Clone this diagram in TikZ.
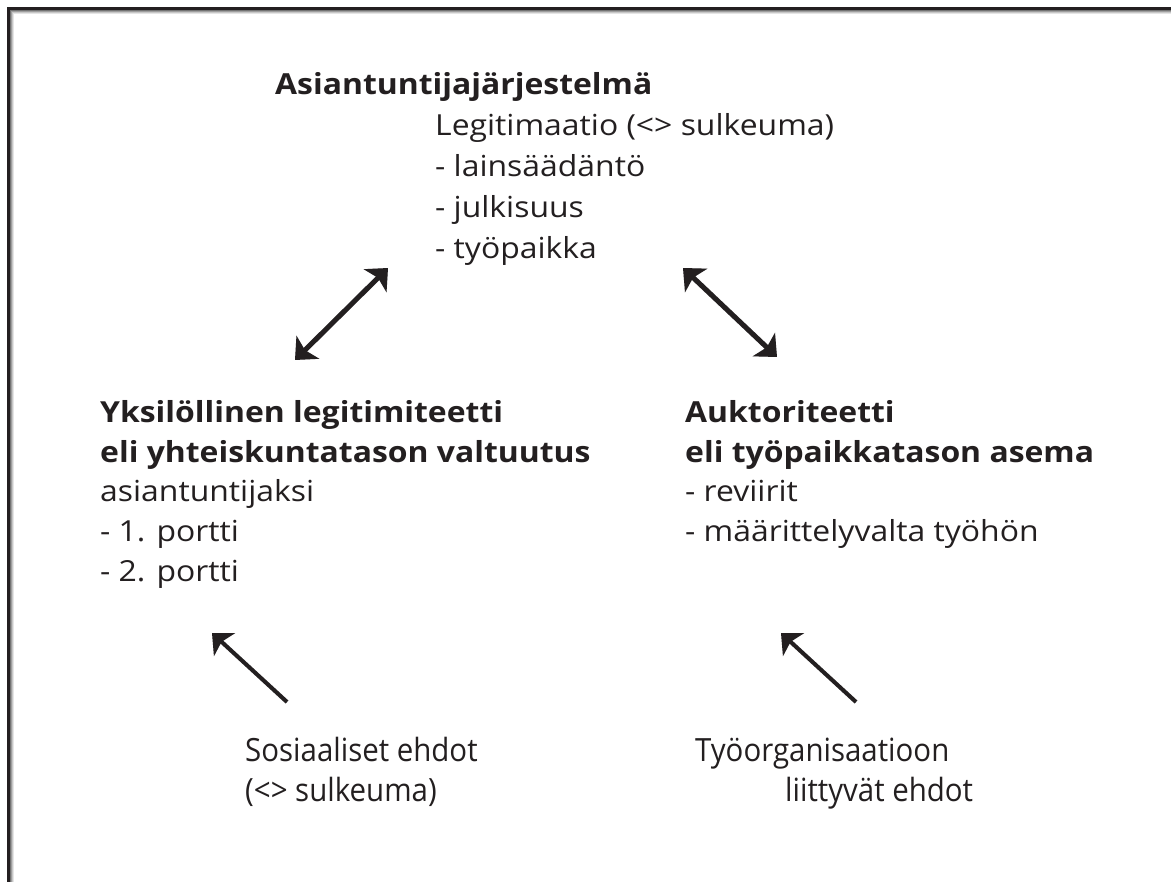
\documentclass[tikz,border=0pt]{standalone}
\usepackage{fontspec}
\setmainfont[FakeStretch=1.1]{Open Sans}
\newfontfamily\condfont[FakeStretch=0.92]{Open Sans}
\usetikzlibrary{arrows.meta}
\definecolor{ink}{HTML}{231F20}
\begin{document}
\begin{tikzpicture}[x=1pt,y=-1pt,
  txt/.style={anchor=base west, inner sep=0pt, text=ink, font=\fontsize{29}{35}\selectfont},
  boldtxt/.style={txt, font=\fontsize{29}{35}\selectfont\bfseries},
  condtxt/.style={txt, font=\fontsize{32}{38}\selectfont\condfont},
  dbl/.style={draw=ink, line width=5pt, {Stealth[length=18pt,width=32pt,inset=4pt]}-{Stealth[length=18pt,width=32pt,inset=4pt]}},
  sgl/.style={draw=ink, line width=4pt, -{Stealth[length=17pt,width=31pt,inset=4pt]}}
]
\useasboundingbox (0,0) rectangle (1171,882);
\clip (0,0) rectangle (1171,882);
\fill[white] (0,0) rectangle (1171,882);
% frame with inner shadow
\foreach \d/\c in {4/10, 3/22, 2/38, 1/55}{
  \draw[black!\c, line width=1pt] (9.5+\d,890) -- (9.5+\d,9.5+\d) -- (1180,9.5+\d);
}
\draw[ink, line width=3pt] (8.5,890) -- (8.5,8.5) -- (1180,8.5);

% top block
\node[boldtxt] (t0) at (275,95) {Asiantuntijajärjestelmä};
\node[txt] (t1) at (435,136) {Legitimaatio (<> sulkeuma)};
\node[txt] (t2) at (435,177) {- lainsäädäntö};
\node[txt] (t3) at (435,218) {- julkisuus};
\node[txt] (t4) at (435,259) {- työpaikka};

% left block
\node[boldtxt] (l0) at (100,423) {Yksilöllinen legitimiteetti};
\node[boldtxt] (l1) at (100,463) {eli yhteiskuntatason valtuutus};
\node[txt] (l2) at (100,502) {asiantuntijaksi};
\node[txt] (l3) at (100,542) {- 1. portti};
\node[txt] (l4) at (100,582) {- 2. portti};

% right block
\node[boldtxt] (r0) at (685,423) {Auktoriteetti};
\node[boldtxt] (r1) at (685,463) {eli työpaikkatason asema};
\node[txt] (r2) at (685,502) {- reviirit};
\node[txt] (r3) at (685,542) {- määrittelyvalta työhön};

% bottom texts
\node[condtxt] (b0) at (245,761) {Sosiaaliset ehdot};
\node[condtxt] (b1) at (245,801) {(<> sulkeuma)};
\node[condtxt] (c0) at (695,761) {Työorganisaatioon};
\node[condtxt] (c1) at (785,801) {liittyvät ehdot};

% arrow end points
\coordinate (a1s) at (295,360); \coordinate (a1e) at (388,268);
\coordinate (a2s) at (683,268); \coordinate (a2e) at (777,357);
\coordinate (a3s) at (287,702); \coordinate (a3e) at (212,633);
\coordinate (a4s) at (856,702); \coordinate (a4e) at (781,633);

% shadows
\begin{scope}[opacity=0.35]
\draw[dbl, draw=black!60, fill=black!60, shift={(3,3)}] (a1s) -- (a1e);
\draw[dbl, draw=black!60, fill=black!60, shift={(3,3)}] (a2s) -- (a2e);
\draw[sgl, draw=black!60, fill=black!60, shift={(3,3)}] (a3s) -- (a3e);
\draw[sgl, draw=black!60, fill=black!60, shift={(3,3)}] (a4s) -- (a4e);
\end{scope}
% arrows
\draw[dbl] (a1s) -- (a1e);
\draw[dbl] (a2s) -- (a2e);
\draw[sgl] (a3s) -- (a3e);
\draw[sgl] (a4s) -- (a4e);
\end{tikzpicture}
\end{document}
